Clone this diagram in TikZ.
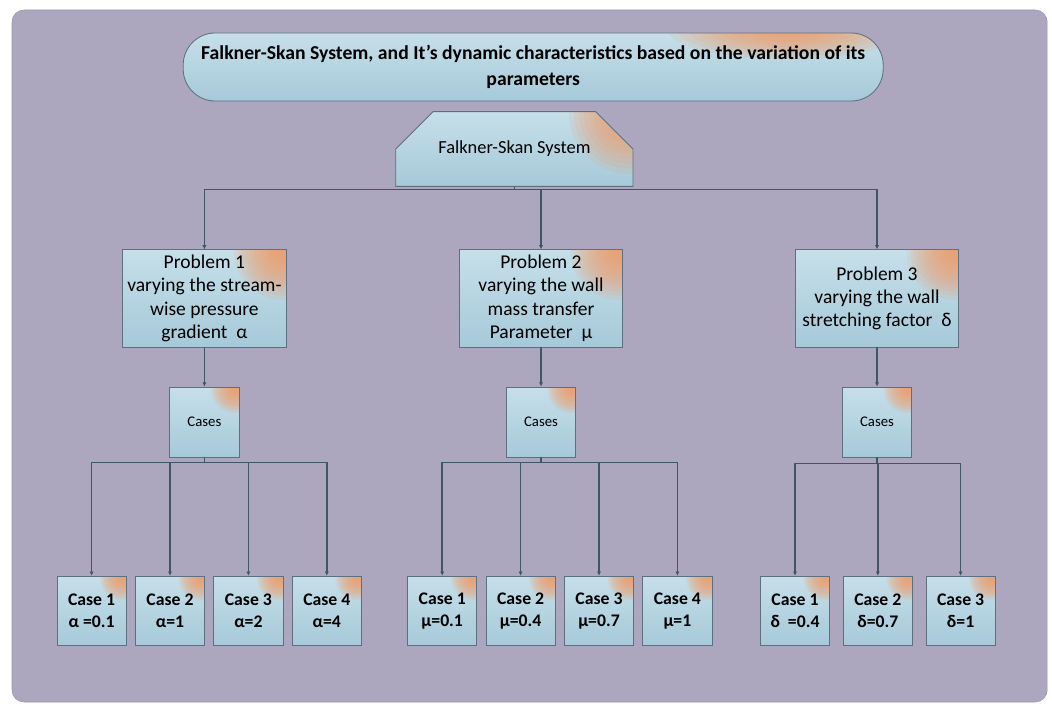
\documentclass[tikz,border=0pt]{standalone}
\usepackage{fontspec}
\setmainfont{Carlito}
\usepackage{xcolor}
\usepackage{tikz}
\usetikzlibrary{shapes,shapes.misc,arrows,arrows.meta,positioning}
\definecolor{bgpurple}{HTML}{ACA7BF}
\definecolor{bgedge}{HTML}{9A95AE}
\definecolor{boxtop}{HTML}{C6DFE9}
\definecolor{boxbot}{HTML}{A6C9D9}
\definecolor{glow}{HTML}{F5955A}
\definecolor{edge}{HTML}{5C7080}
\definecolor{wire}{HTML}{3F5667}
% soft orange glow in the top right corner, built from thin layers
\tikzstyle{glowing} = [top color=boxtop, bottom color=boxbot, draw=edge, line width=0.6pt,
  path picture={\foreach \k in {1,...,12} {\fill[glow, opacity=0.12] ([xshift=-0.1cm,yshift=-0.05cm]path picture bounding box.north east) circle ({#1*\k/12});}}]
\tikzstyle{titlebox} = [rectangle, rounded corners=0.8cm, minimum width=17.5cm, minimum height=1.7cm, align=center, font=\fontsize{14}{18}\selectfont\bfseries,
  top color=boxtop, bottom color=boxbot, draw=edge, line width=0.6pt,
  path picture={\foreach \k in {1,...,12} {\fill[glow, opacity=0.12] ([xshift=-2.4cm,yshift=0.1cm]path picture bounding box.north east) ellipse ({3.0cm*\k/12} and {0.75cm*\k/12});}}]
\tikzstyle{systembox} = [chamfered rectangle, chamfered rectangle corners={north east, north west}, chamfered rectangle xsep=0.55cm, chamfered rectangle ysep=0.62cm, glowing=1.5cm, minimum width=5.93cm, minimum height=1.8cm, font=\fontsize{13.1}{15}\selectfont]
\tikzstyle{problem} = [rectangle, glowing=1.2cm, minimum width=4.08cm, minimum height=2.43cm, inner sep=0pt, align=center, font=\fontsize{13.9}{16.7}\selectfont]
\tikzstyle{casesbox} = [rectangle, glowing=0.6cm, minimum width=1.73cm, minimum height=1.75cm, inner sep=0pt, font=\fontsize{10.5}{12}\selectfont]
\tikzstyle{casebox} = [rectangle, glowing=0.55cm, minimum width=1.73cm, minimum height=1.73cm, inner sep=0pt, align=center, font=\fontsize{12.6}{15.6}\selectfont\bfseries]
\tikzstyle{line} = [draw=wire, line width=1.2pt, -{Latex[length=3pt,width=3pt]}]

\begin{document}
\begin{tikzpicture}[node distance = 3.09cm]
\useasboundingbox (0,0) rectangle (26.3,-17.7);
\fill[bgpurple, draw=bgedge, rounded corners=0.3cm] (0.3,-0.25) rectangle (26.18,-17.55);

\node [titlebox] (title) at (13.33,-1.675) {Falkner-Skan System, and It’s dynamic characteristics based on the variation of its\\parameters};
\node [systembox] (fss) at (12.86,-3.725) {Falkner-Skan System};

\node [problem] (prob1) at (5.11,-7.46) {Problem 1\\varying the stream-\\wise pressure\\gradient~~α};
\node [problem] (prob2) at (13.525,-7.46) {Problem 2\\varying the wall\\mass transfer\\Parameter~~μ};
\node [problem] (prob3) at (21.925,-7.46) {Problem 3\\varying the wall\\stretching factor~~δ};

\node [casesbox, below of=prob1] (cases1) {Cases};
\node [casesbox, below of=prob2] (cases2) {Cases};
\node [casesbox, below of=prob3] (cases3) {Cases};

% cases of problem 1
\node [casebox, below of=cases1, node distance=4.72cm, xshift=-2.82cm] (case11) {Case 1\\α =0.1};
\node [casebox, right of=case11, node distance=1.96cm] (case12) {Case 2\\α=1};
\node [casebox, right of=case12, node distance=1.96cm] (case13) {Case 3\\α=2};
\node [casebox, right of=case13, node distance=1.96cm] (case14) {Case 4\\α=4};

% cases of problem 2
\node [casebox, below of=cases2, node distance=4.72cm, xshift=-2.47cm] (case21) {Case 1\\μ=0.1};
\node [casebox, right of=case21, node distance=1.96cm] (case22) {Case 2\\μ=0.4};
\node [casebox, right of=case22, node distance=1.96cm] (case23) {Case 3\\μ=0.7};
\node [casebox, right of=case23, node distance=1.96cm] (case24) {Case 4\\μ=1};

% cases of problem 3
\node [casebox, below of=cases3, node distance=4.72cm, xshift=-2.05cm] (case31) {Case 1\\δ~~=0.4};
\node [casebox, right of=case31, node distance=2.07cm] (case32) {Case 2\\δ=0.7};
\node [casebox, right of=case32, node distance=2.07cm] (case33) {Case 3\\δ=1};

\foreach \p in {1,2,3} {
  \path [line] (fss.south) -- ++(0,-0.07) -| (prob\p.north);
  \path [line] (prob\p) -- (cases\p);
}
\foreach \c in {1,2,3,4} {
  \path [line] (cases1.south) -- ++(0,-0.13) -| (case1\c.north);
  \path [line] (cases2.south) -- ++(0,-0.13) -| (case2\c.north);
}
\foreach \c in {1,2,3} {
  \path [line] (cases3.south) -- ++(0,-0.15) -| (case3\c.north);
}
\end{tikzpicture}
\end{document}
